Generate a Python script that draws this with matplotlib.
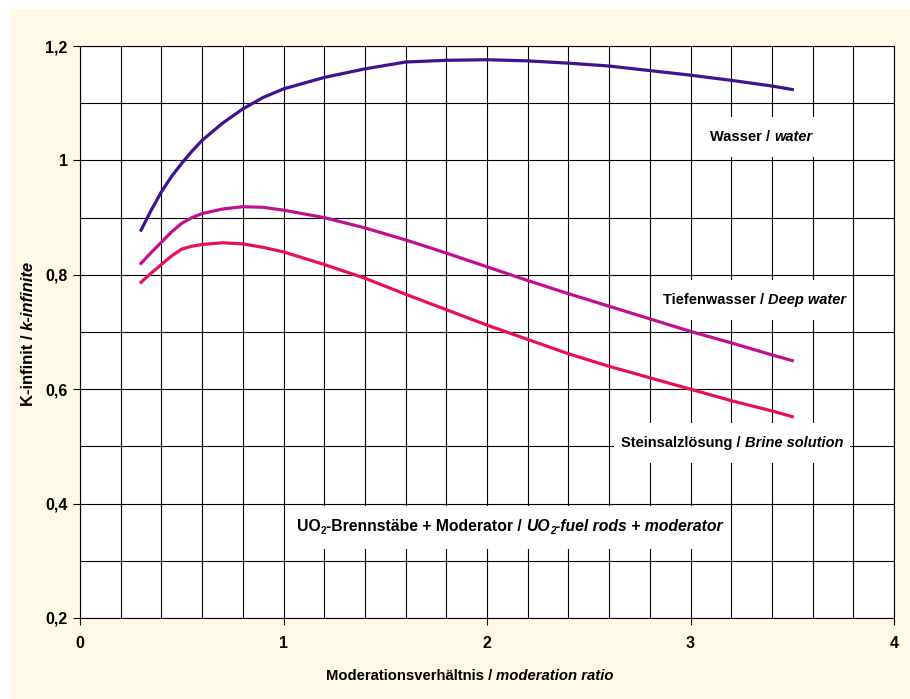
import numpy as np
import matplotlib
matplotlib.use('Agg')
import matplotlib.pyplot as plt
from matplotlib.patches import Rectangle
from matplotlib.transforms import offset_copy, Bbox

# Werte
ratio = [0.3, 0.35, 0.4, 0.45, 0.5, 0.55, 0.6, 0.7, 0.8, 0.9, 1.0, 1.2, 1.4, 1.6, 1.8,
         2.0, 2.2, 2.4, 2.6, 2.8, 3.0, 3.2, 3.4, 3.5]
k_water = [0.878, 0.913, 0.945, 0.972, 0.995, 1.016, 1.035, 1.065, 1.090, 1.110,
           1.125, 1.145, 1.160, 1.172, 1.175, 1.176, 1.174, 1.170, 1.165, 1.157,
           1.149, 1.140, 1.130, 1.124]
k_deep = [0.820, 0.839, 0.857, 0.875, 0.890, 0.900, 0.907, 0.915, 0.919, 0.918,
          0.913, 0.900, 0.882, 0.861, 0.838, 0.814, 0.790, 0.767, 0.745, 0.723,
          0.701, 0.681, 0.660, 0.650]
k_brine = [0.787, 0.803, 0.818, 0.833, 0.845, 0.850, 0.853, 0.856, 0.854, 0.848,
           0.840, 0.818, 0.794, 0.766, 0.739, 0.712, 0.687, 0.662, 0.640, 0.620,
           0.600, 0.580, 0.562, 0.552]

x_ticks = [0, 1, 2, 3, 4]
x_labels = ['0', '1', '2', '3', '4']
y_ticks = [0.2, 0.4, 0.6, 0.8, 1.0, 1.2]
y_labels = ['0,2', '0,4', '0,6', '0,8', '1', '1,2']

plt.rcParams['font.family'] = ['Liberation Sans', 'DejaVu Sans']
plt.rcParams['font.weight'] = 'bold'

W, H = 910, 699
fig = plt.figure(figsize=(W / 100, H / 100), dpi=100, facecolor='white')
# gelber Hintergrund
fig.add_artist(Rectangle((11 / W, 0), 1, (H - 9) / H, transform=fig.transFigure,
                         facecolor='#FFF8E6', edgecolor='none', zorder=-10))

ax = fig.add_axes([80 / W, (H - 618) / H, 814 / W, 572 / H])
ax.set_xlim(0, 4)
ax.set_ylim(0.2, 1.2)
ax.set_xticks(x_ticks)
ax.set_xticklabels(x_labels)
ax.set_xticks(np.arange(0, 4.01, 0.2), minor=True)
ax.set_yticks(y_ticks)
ax.set_yticklabels(y_labels)
ax.set_yticks(np.arange(0.2, 1.21, 0.1), minor=True)
ax.grid(which='both', color='black', lw=0.8)
ax.set_axisbelow(True)
ax.tick_params(which='major', length=5, width=0.8, labelsize=11.5)
ax.tick_params(axis='x', pad=8)
ax.tick_params(axis='y', pad=4)
ax.tick_params(which='minor', length=0)
for sp in ax.spines.values():
    sp.set_linewidth(0.8)

ax.plot(ratio, k_water, color='#3F1290', lw=2.3, zorder=3)
ax.plot(ratio, k_deep, color='#C0108C', lw=2.3, zorder=3)
ax.plot(ratio, k_brine, color='#E8105A', lw=2.3, zorder=3)

renderer = fig.canvas.get_renderer()


def chain_text(trans, x, y, parts, size, rot=0, zorder=1.6):
    # Textstücke nebeneinander setzen (normal / kursiv / tiefgestellt)
    owner = fig if trans is fig.transFigure else ax
    texts = []
    pos = 0.0
    for s, style in parts:
        sub = 'sub' in style
        fs = size * 0.62 if sub else size
        sp_px = 0.278 * fs * 100 / 72
        lead = len(s) - len(s.lstrip(' '))
        trail = len(s) - len(s.rstrip(' '))
        pos += lead * sp_px
        dy = -3 if sub else 0
        if rot:
            tr = offset_copy(trans, fig=fig, x=-dy, y=pos, units='dots')
        else:
            tr = offset_copy(trans, fig=fig, x=pos, y=dy, units='dots')
        t = owner.text(x, y, s.strip(' '), transform=tr, fontsize=fs, fontweight='bold',
                       fontstyle='italic' if 'it' in style else 'normal',
                       ha='left', va='baseline', rotation=rot, rotation_mode='anchor',
                       zorder=zorder)
        ext = t.get_window_extent(renderer)
        pos += (ext.height if rot else ext.width) + trail * sp_px
        texts.append(t)
    return texts


def label(x, y, parts, size=10.5, padx=7, pady=13):
    texts = chain_text(ax.transAxes, x, y, parts, size)
    bb = Bbox.union([t.get_window_extent(renderer) for t in texts])
    bb = Bbox.from_extents(bb.x0 - padx, bb.y0 - pady, bb.x1 + padx, bb.y1 + pady)
    (x0, y0), (x1, y1) = ax.transAxes.inverted().transform(bb.get_points())
    ax.add_patch(Rectangle((x0, y0), x1 - x0, y1 - y0, transform=ax.transAxes,
                           facecolor='white', edgecolor='none', zorder=1.5))


label(0.774, 0.834, [('Wasser / ', 'n'), ('water', 'it')])
label(0.716, 0.549, [('Tiefenwasser / ', 'n'), ('Deep water', 'it')])
label(0.665, 0.299, [('Steinsalzlösung / ', 'n'), ('Brine solution', 'it')])
label(0.2666, 0.152, [('UO', 'n'), ('2', 'sub'), ('-Brennstäbe + Moderator / ', 'n'),
                      ('UO', 'it'), ('2', 'itsub'), ('-fuel rods + moderator', 'it')],
      size=11.3)

# Achsentitel
chain_text(fig.transFigure, 326 / W, 19 / H,
           [('Moderationsverhältnis / ', 'n'), ('moderation ratio', 'it')], 10.7)
chain_text(fig.transFigure, 33 / W, (H - 406) / H,
           [('K-infinit / ', 'n'), ('k-infinite', 'it')], 12, rot=90)

fig.savefig('out.png', dpi=100, facecolor=fig.get_facecolor())
